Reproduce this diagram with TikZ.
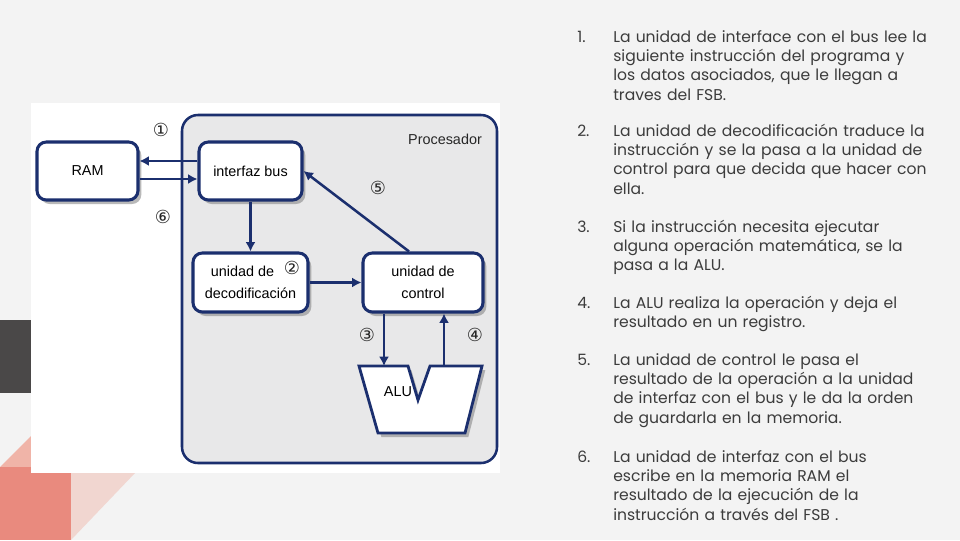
\documentclass[tikz,border=0pt]{standalone}
\usepackage{fontspec}
\setmainfont{Poppins}
\newfontfamily\diagfont{Liberation Sans}
\newfontfamily\circfont{DejaVu Sans}
\usepackage{tikz}
\usetikzlibrary{arrows.meta,shadows,calc,backgrounds}
\definecolor{busblue}{HTML}{1B2F6E}
\definecolor{procgray}{HTML}{E8E8E9}
\definecolor{slidegray}{HTML}{F3F3F3}
\definecolor{listgray}{HTML}{3C3C3C}
\definecolor{salmon}{HTML}{E98A7E}
\definecolor{palesalmon}{HTML}{F0B4A8}
\definecolor{blush}{HTML}{F1D6D0}
\definecolor{darkblock}{HTML}{4A4848}
\tikzset{
    unit box/.style={draw=busblue, line width=2.3pt, fill=white,
      rounded corners=7pt, align=center,
      font=\diagfont\fontsize{10.8}{16.5}\selectfont,
      drop shadow={shadow xshift=2.5pt, shadow yshift=-3pt,
        fill=black!50, opacity=.55}},
    bus line/.style={line width=1.9pt, draw=busblue, ->,
      >={Latex[length=7pt,width=7.5pt]}},
    step label/.style={font=\circfont\fontsize{13.5}{15}\selectfont,
      text=black!85, inner sep=0pt},
    item num/.style={anchor=base west, inner sep=0pt, text=listgray,
      font=\fontsize{11.7}{14.55}\selectfont},
    item text/.style={item num, text width=260pt, align=left}
}

\begin{document}
\begin{tikzpicture}[x=0.75pt,y=-0.75pt]
  \useasboundingbox (0,0) rectangle (960,540);
  \fill[slidegray] (0,0) rectangle (960,540);

  % slide decoration
  \fill[darkblock] (0,320) rectangle (31,393);
  \fill[palesalmon] (0,467) -- (66,401) -- (66,467) -- cycle;
  \fill[salmon] (0,467) rectangle (71,540);
  \fill[blush] (71,473) -- (135,473) -- (71,540) -- cycle;
  \fill[white] (31,103) rectangle (500,473);

  % processor
  \node[draw=busblue, line width=1.9pt, fill=procgray, rounded corners=12pt,
    minimum width=236.25pt, minimum height=261pt] (proc) at (339.5,289) {};
  \node[font=\diagfont\fontsize{10.8}{12}\selectfont, text=black!85]
    (procname) at (445,139) {Procesador};

  % units
  \node[unit box, minimum width=75.75pt, minimum height=43.5pt]
    (ram) at (87.5,171) {RAM};
  \node[unit box, minimum width=77.25pt, minimum height=43.5pt]
    (bus) at (250.5,171) {interfaz bus};
  \node[unit box, minimum width=86.25pt, minimum height=44.25pt]
    (decod) at (250.5,282.5) {\hspace*{-12pt}unidad de\\decodificación};
  \node[unit box, minimum width=90pt, minimum height=44.25pt]
    (ctrl) at (423,282.5) {unidad de\\control};

  % ALU
  \draw[busblue, line width=2.1pt, fill=white, line join=miter,
    drop shadow={shadow xshift=2.5pt, shadow yshift=-3pt,
      fill=black!50, opacity=.55}]
    (359,366) -- (408,366) -- (418,400) -- (430,366) -- (482,366)
    -- (465,433) -- (378,433) -- cycle;
  \node[font=\diagfont\fontsize{10.8}{12}\selectfont] (alu) at (398,392) {ALU};
  \coordinate (alu in) at (384,366);
  \coordinate (alu out) at (444,366);

  % links
  \draw[bus line] ($(bus.west)+(0,-10)$) -- ($(ram.east)+(0,-10)$);
  \draw[bus line] ($(ram.east)+(0,8)$) -- ($(bus.west)+(0,8)$);
  \draw[bus line] (bus.south) -- (decod.north);
  \draw[bus line] (decod.east) -- (ctrl.west);
  \draw[bus line] (ctrl.south -| alu in) -- (alu in);
  \draw[bus line] (alu out) -- (ctrl.south -| alu out);
  \draw[bus line] ($(ctrl.north)+(-14,0)$) -- (bus.east);

  \node[step label] (s1) at (161,130) {①};
  \node[step label] (s2) at (292,268) {②};
  \node[step label] (s3) at (367,335) {③};
  \node[step label] (s4) at (475,335) {④};
  \node[step label] (s5) at (378,188) {⑤};
  \node[step label] (s6) at (163,217) {⑥};

  % steps list
  \node[item num] (n1) at (577,42) {1.};
  \node[item text] (t1) at (613,42) {La unidad de interface con el bus lee la\\
    siguiente instrucción del programa y\\
    los datos asociados, que le llegan a\\
    traves del FSB.};
  \node[item num] (n2) at (577,136) {2.};
  \node[item text] (t2) at (613,136) {La unidad de decodificación traduce la\\
    instrucción y se la pasa a la unidad de\\
    control para que decida que hacer con\\
    ella.};
  \node[item num] (n3) at (577,232) {3.};
  \node[item text] (t3) at (613,232) {Si la instrucción necesita ejecutar\\
    alguna operación matemática, se la\\
    pasa a la ALU.};
  \node[item num] (n4) at (577,308) {4.};
  \node[item text] (t4) at (613,308) {La ALU realiza la operación y deja el\\
    resultado en un registro.};
  \node[item num] (n5) at (577,365) {5.};
  \node[item text] (t5) at (613,365) {La unidad de control le pasa el\\
    resultado de la operación a la unidad\\
    de interfaz con el bus y le da la orden\\
    de guardarla en la memoria.};
  \node[item num] (n6) at (577,462) {6.};
  \node[item text] (t6) at (613,462) {La unidad de interfaz con el bus\\
    escribe en la memoria RAM el\\
    resultado de la ejecución de la\\
    instrucción a través del FSB .};
\end{tikzpicture}
\end{document}
